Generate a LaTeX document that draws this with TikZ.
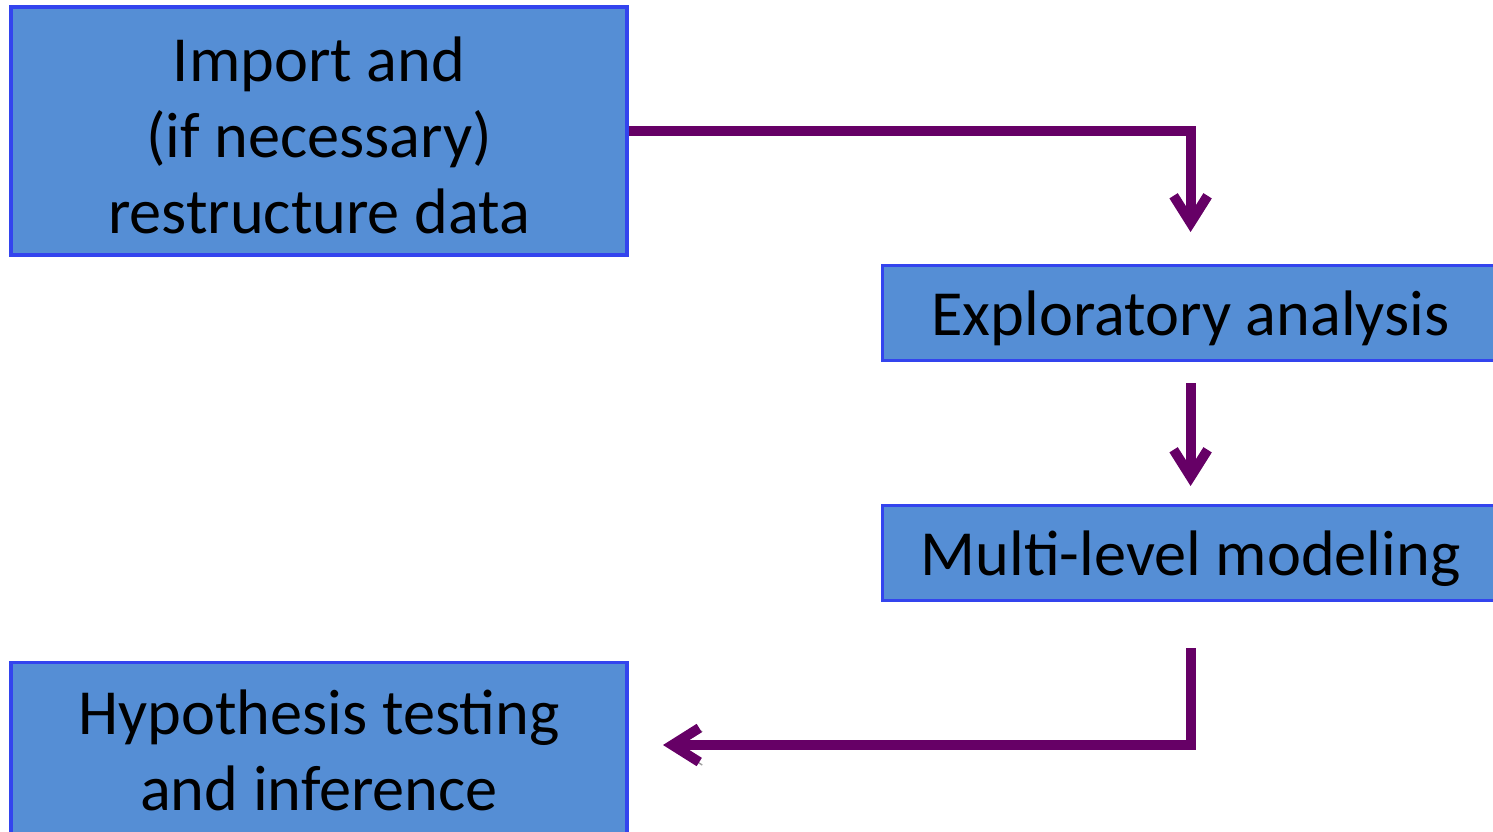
\documentclass[tikz,border=0pt]{standalone}
\usepackage{fontspec}
\setmainfont{Carlito}
\usetikzlibrary{arrows.meta}

\definecolor{boxfill}{HTML}{558ED5}
\definecolor{boxline}{HTML}{3344EE}
\definecolor{flow}{HTML}{660066}

\tikzset{
  stepbox/.style={draw=boxline,line width=0.9pt,fill=boxfill,align=center,
    font=\fontsize{18.3}{21.6}\selectfont,inner sep=0pt},
  conn/.style={draw=flow,line width=2.8pt,
    -{Straight Barb[length=2.7mm,width=3.4mm,line width=2.8pt]},
    preaction={draw=gray!75,transform canvas={shift={(0.03,-0.03)}}}}
}

\begin{document}
\begin{tikzpicture}
  \clip (0,0) rectangle (14.93,-8.31);
  \useasboundingbox (0,0) rectangle (14.93,-8.31);
  % boxes
  \node[stepbox,minimum width=6.16cm,minimum height=2.48cm,text height=2.05cm] (imp) at (3.19,-1.31)
    {Import and\\(if necessary)\\restructure data};
  \node[stepbox,minimum width=6.16cm,minimum height=0.95cm,anchor=north west,text depth=0pt] (expl) at (8.81,-2.64)
    {Exploratory analysis};
  \node[stepbox,minimum width=6.16cm,minimum height=0.95cm,anchor=north west,text depth=0pt] (multi) at (8.81,-5.04)
    {Multi-level modeling};
  \node[stepbox,minimum width=6.16cm,minimum height=1.75cm,anchor=north] (hyp) at (3.19,-6.61)
    {Hypothesis testing\\and inference};
  % connectors
  \coordinate (hypin) at (6.27,-7.45);
  \draw[conn,shorten >=0.32cm] (imp.east) -| (expl.north);
  \draw[conn,shorten <=0.21cm,shorten >=0.18cm] (expl.south) -- (multi.north);
  \draw[conn,shorten <=0.46cm,shorten >=0.36cm] (multi.south) |- (hypin);
\end{tikzpicture}
\end{document}
